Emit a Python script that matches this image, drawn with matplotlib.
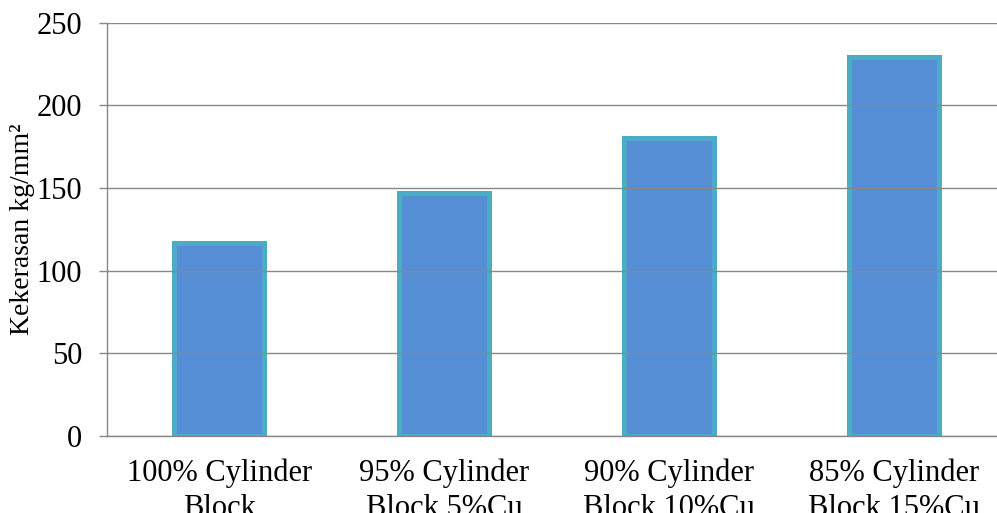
import numpy as np
import matplotlib.pyplot as plt

plt.rcParams['font.family'] = ['Liberation Serif', 'DejaVu Serif']

# Kekerasan per komposisi (kg/mm2)
labels = ['100% Cylinder\nBlock', '95% Cylinder\nBlock 5%Cu',
          '90% Cylinder\nBlock 10%Cu', '85% Cylinder\nBlock 15%Cu']
kekerasan = [117, 147, 180, 229]
y_ticks = [0, 50, 100, 150, 200, 250]

x = np.arange(len(labels))
grid_col = '#888888'

fig = plt.figure(figsize=(9.97, 5.13), dpi=100)
ax = fig.add_axes([107/997, 1 - 436/513, 899/997, (436 - 22.7)/513])

ax.bar(x, kekerasan, width=0.4, color='#558ED5', edgecolor='#4BACC6',
       linewidth=3.6, zorder=2)

ax.set_xlim(-0.5, 3.5)
ax.set_ylim(0, 250)
ax.set_yticks(y_ticks)
ax.set_xticks(x)
ax.set_xticklabels(labels, fontsize=22, linespacing=1.3)
ax.tick_params(axis='y', labelsize=22, length=6, width=1.0, color=grid_col, pad=12)
ax.tick_params(axis='x', length=0, pad=16)

ax.yaxis.grid(True, color=grid_col, linewidth=1.0, zorder=1)
ax.set_axisbelow(False)
for side in ['top', 'right']:
    ax.spines[side].set_visible(False)
for side in ['left', 'bottom']:
    ax.spines[side].set_color(grid_col)
    ax.spines[side].set_linewidth(1.0)
    ax.spines[side].set_zorder(3)

ax.set_ylabel('Kekerasan kg/mm²', fontsize=20)
ax.yaxis.set_label_coords(-0.080, 0.5)

fig.savefig('out.png', dpi=100)
